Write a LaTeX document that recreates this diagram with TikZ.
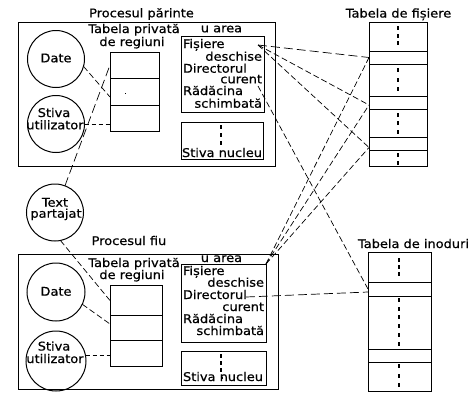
\documentclass[tikz,border=0pt]{standalone}
\usepackage{fontspec}
\setmainfont[FakeBold=0.6,FakeStretch=1.08]{DejaVu Sans}
\usetikzlibrary{fit,calc}
\newcommand\vdotsat[2]{\foreach \yy in {#2} {\fill (#1-1,\yy-2) rectangle ++(2,4);}}
\begin{document}
\begin{tikzpicture}[x=1pt,y=-1pt,line width=1pt,
  rc/.style={draw,inner sep=0pt,outer sep=0pt},
  circ/.style={draw,circle,inner sep=0pt,outer sep=0pt,minimum size=#1},
  circ/.default=57pt,
  txt/.style={inner sep=0pt,outer sep=0pt,anchor=base,font=\fontsize{12}{12}\selectfont},
  txl/.style={txt,anchor=base west},
  txr/.style={txt,anchor=base east},
  dl/.style={line width=0.7pt,dash pattern=on 6pt off 3pt},
  dshort/.style={line width=0.7pt,dash pattern=on 4pt off 3pt},
  dlong/.style={line width=0.7pt,dash pattern=on 9pt off 4pt}]
\useasboundingbox (0,0) rectangle (474,408);

% ---------- parent process ----------
\node[rc,fit={(18,22) (275,166)}] (pbox) {};
\node[txt] (ptitle) at (141.5,17.3) {Procesul părinte};
\node[circ] (pdate) at (56,59) {};
\node[txt] (pdatet) at (56,62.3) {Date};
\node[circ] (pstiva) at (56,124) {};
\node[txt] (pstiva1) at (54,117) {Stiva};
\node[txt] (pstiva2) at (55,129.3) {utilizator};
\node[txt] (ptab1) at (134,33) {Tabela privată};
\node[txt] (ptab2) at (132,46) {de regiuni};
\node[rc,fit={(110,52) (159,78)}] (pr1) {};
\node[rc,fit={(110,78) (159,105)}] (pr2) {};
\node[rc,fit={(110,105) (159,131)}] (pr3) {};
\fill (124.5,92.5) rectangle ++(1,1);
\node[txt] (puat) at (221.5,32.3) {u area};
\node[rc,fit={(181,36) (264,112)}] (pu) {};
\node[txl] (pu1) at (183,48) {Fișiere};
\node[txr] (pu2) at (262,60.7) {deschise};
\node[txl] (pu3) at (183,72.7) {Directorul};
\node[txr] (pu4) at (262,83.3) {curent};
\node[txl] (pu5) at (183,95) {Rădăcina};
\node[txr] (pu6) at (262,107.7) {schimbată};
\node[rc,fit={(181,122) (263,159)}] (psn) {};
\vdotsat{221}{127,135,143}
\node[txt] (psnt) at (222,157) {Stiva nucleu};

% ---------- shared text ----------
\node[circ] (ctext) at (55,212.5) {};
\node[txt] (ctext1) at (55,206.7) {Text};
\node[txt] (ctext2) at (56,217.7) {partajat};

% ---------- child process ----------
\node[rc,fit={(18,254) (278,389)}] (cbox) {};
\node[txt] (ctitle) at (129,245) {Procesul fiu};
\node[circ=58pt] (cdate) at (56,292) {};
\node[txt] (cdatet) at (56,295.7) {Date};
\node[circ=60pt] (cstiva) at (56,361) {};
\node[txt] (cstiva1) at (54,350.5) {Stiva};
\node[txt] (cstiva2) at (55,363) {utilizator};
\node[txt] (ctab1) at (134,267) {Tabela privată};
\node[txt] (ctab2) at (132,279) {de regiuni};
\node[rc,fit={(110,285.5) (162,315.5)}] (cr1) {};
\node[rc,fit={(110,315.5) (162,340.5)}] (cr2) {};
\node[rc,fit={(110,340.5) (162,366.5)}] (cr3) {};
\node[txt] (cuat) at (221.5,262) {u area};
\node[rc,fit={(181,264) (266,342)}] (cu) {};
\node[txl] (cu1) at (183,275) {Fișiere};
\node[txr] (cu2) at (264,286.7) {deschise};
\node[txl] (cu3) at (183,299) {Directorul};
\node[txr] (cu4) at (264,311) {curent};
\node[txl] (cu5) at (183,323) {Rădăcina};
\node[txr] (cu6) at (264,335) {schimbată};
\node[rc,fit={(181,351) (266,385)}] (csn) {};
\vdotsat{221}{356,363,370}
\fill (221.5,377) rectangle ++(1.5,2);
\node[txt] (csnt) at (223,381) {Stiva nucleu};

% ---------- file table ----------
\node[txt] (ftitle) at (398.5,17.5) {Tabela de fișiere};
\node[rc,fit={(369,22) (427,51)}] (ft1) {};
\node[rc,fit={(369,51) (427,64)}] (fe1) {};
\node[rc,fit={(369,64) (427,96)}] (ft2) {};
\node[rc,fit={(369,96) (427,109)}] (fe2) {};
\node[rc,fit={(369,109) (427,137)}] (ft3) {};
\node[rc,fit={(369,137) (427,150)}] (fe3) {};
\node[rc,fit={(369,150) (427,166)}] (ft4) {};
\vdotsat{397.5}{28,36,43}
\vdotsat{397.5}{70,80,89}
\vdotsat{397.5}{115,123,132}
\vdotsat{397.5}{155,163}

% ---------- inode table ----------
\node[txt] (ititle) at (413.5,248) {Tabela de inoduri};
\node[rc,fit={(368,252) (431,282)}] (it1) {};
\node[rc,fit={(368,282) (431,296)}] (ie1) {};
\node[rc,fit={(368,296) (431,349)}] (it2) {};
\node[rc,fit={(368,349) (431,362)}] (ie2) {};
\node[rc,fit={(368,362) (431,391)}] (it3) {};
\vdotsat{398.5}{260,267,274}
\vdotsat{398.5}{300,308.5,317,325.5,335,344}
\vdotsat{398.5}{366,375.5,385}

% ---------- connectors ----------
\draw[dl] (pdate.-15) -- ([yshift=-5.5pt]pr2.west);
\draw[dshort] (pstiva.east) -- (pstiva.east -| pr3.west);
\draw[dlong] (ctext) -- (pr1.west);
\draw[dl] (ctext.-79) -- (cr1.west);
\draw[dl] (cdate.-25) -- ([yshift=4pt]cr2.west);
\draw[dshort] (cstiva.10) -- (cstiva.10 -| cr3.west);

\coordinate (pf) at (258,45);
\coordinate (pc) at (258,86);
\coordinate (cd) at (246,297);
\draw[dlong] (pf) -- (fe1.west);
\draw[dl] (pf) -- ([yshift=-2.5pt]fe2.west);
\draw[dl] (pf) -- ([yshift=-4pt]fe3.west);
\draw[dl] (cu.north east) -- (fe1.west);
\draw[dl] (cu.north east) -- ([yshift=-2.5pt]fe2.west);
\draw[dl] (cu.north east) -- ([yshift=-4pt]fe3.west);
\draw[dl] (pc) -- (ie1.west);
\draw[dlong] (cd) -- ([yshift=-3pt]ie1.west);
\end{tikzpicture}
\end{document}
